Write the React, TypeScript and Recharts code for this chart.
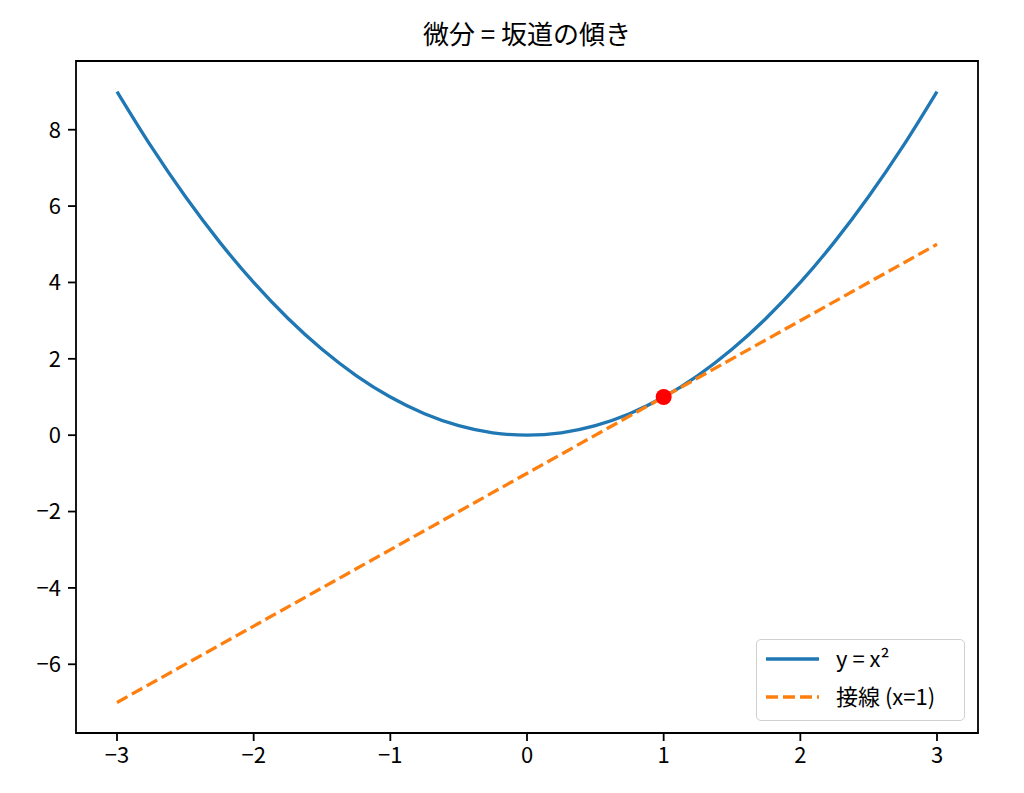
import React from "react";
import {
  ComposedChart,
  Line,
  Scatter,
  XAxis,
  YAxis,
  ReferenceArea,
} from "recharts";

// y = x² sampled on the visible range
const curveX = [
  -3, -2.75, -2.5, -2.25, -2, -1.75, -1.5, -1.25, -1, -0.75, -0.5, -0.25, 0,
  0.25, 0.5, 0.75, 1, 1.25, 1.5, 1.75, 2, 2.25, 2.5, 2.75, 3,
];
const curveY = [
  9, 7.5625, 6.25, 5.0625, 4, 3.0625, 2.25, 1.5625, 1, 0.5625, 0.25, 0.0625, 0,
  0.0625, 0.25, 0.5625, 1, 1.5625, 2.25, 3.0625, 4, 5.0625, 6.25, 7.5625, 9,
];

// tangent at x = 1
const tangentX = [-3, 3];
const tangentY = [-7, 5];

const pointX = [1];
const pointY = [1];

const xTicks = [-3, -2, -1, 0, 1, 2, 3];
const yTicks = [-6, -4, -2, 0, 2, 4, 6, 8];

const curveData = curveX.map((x, i) => ({ x, y: curveY[i] }));
const tangentData = tangentX.map((x, i) => ({ x, y: tangentY[i] }));
const pointData = pointX.map((x, i) => ({ x, y: pointY[i] }));

const BLUE = "#1f77b4";
const ORANGE = "#ff7f0e";
const FONT = "'Noto Sans CJK JP', 'DejaVu Sans', sans-serif";

const fmt = (v: number) => String(v).replace("-", "\u2212");

function LegendBox() {
  return (
    <div
      style={{
        position: "absolute",
        left: 756,
        top: 639,
        width: 209,
        height: 82,
        border: "1.5px solid #d0d0d0",
        borderRadius: 5,
        background: "rgba(255,255,255,0.8)",
        boxSizing: "border-box",
      }}
    >
      <svg width={209} height={82} style={{ position: "absolute", left: -1, top: -1 }}>
        <line x1={10} x2={63} y1={20} y2={20} stroke={BLUE} strokeWidth={3.3} />
        <line
          x1={10}
          x2={63}
          y1={58}
          y2={58}
          stroke={ORANGE}
          strokeWidth={3.3}
          strokeDasharray="12 5"
        />
        <text x={80} y={28} fontFamily={FONT} fontSize={22}>
          {"y = x\u00b2"}
        </text>
        <text x={80} y={66} fontFamily={FONT} fontSize={22}>
          接線 (x=1)
        </text>
      </svg>
    </div>
  );
}

export default function App() {
  return (
    <div
      style={{
        position: "absolute",
        left: 0,
        top: 0,
        width: 1024,
        height: 793,
        background: "#fff",
      }}
    >
      <div
        style={{
          position: "absolute",
          left: 76,
          width: 902,
          top: 14,
          textAlign: "center",
          fontFamily: FONT,
          fontSize: 26,
          color: "#000",
          whiteSpace: "pre",
        }}
      >
        {"微分 = 坂道の傾き"}
      </div>
      <ComposedChart
        width={1024}
        height={793}
        margin={{ top: 61, right: 46, bottom: 20, left: 16 }}
      >
        <XAxis
          dataKey="x"
          type="number"
          domain={[-3.3, 3.3]}
          ticks={xTicks}
          tickFormatter={fmt}
          allowDataOverflow
          height={40}
          tickSize={8}
          tickMargin={6}
          axisLine={false}
          tickLine={{ stroke: "#000", strokeWidth: 1.8 }}
          tick={{ fill: "#000", fontSize: 22, fontFamily: FONT }}
        />
        <YAxis
          dataKey="y"
          type="number"
          domain={[-7.8, 9.8]}
          ticks={yTicks}
          tickFormatter={fmt}
          allowDataOverflow
          width={60}
          tickSize={8}
          tickMargin={7}
          axisLine={false}
          tickLine={{ stroke: "#000", strokeWidth: 1.8 }}
          tick={{ fill: "#000", fontSize: 22, fontFamily: FONT }}
        />
        <Line
          data={curveData}
          dataKey="y"
          type="monotone"
          stroke={BLUE}
          strokeWidth={3.3}
          dot={false}
          isAnimationActive={false}
        />
        <Line
          data={tangentData}
          dataKey="y"
          type="linear"
          stroke={ORANGE}
          strokeWidth={3.3}
          strokeDasharray="12 5"
          dot={false}
          isAnimationActive={false}
        />
        <Scatter
          data={pointData}
          dataKey="y"
          fill="#ff0000"
          isAnimationActive={false}
          shape={(p: any) => <circle cx={p.cx} cy={p.cy} r={8} fill="#ff0000" />}
        />
        <ReferenceArea
          x1={-3.3}
          x2={3.3}
          y1={-7.8}
          y2={9.8}
          fill="none"
          stroke="#000"
          strokeWidth={1.8}
          ifOverflow="visible"
        />
      </ComposedChart>
      <LegendBox />
    </div>
  );
}
